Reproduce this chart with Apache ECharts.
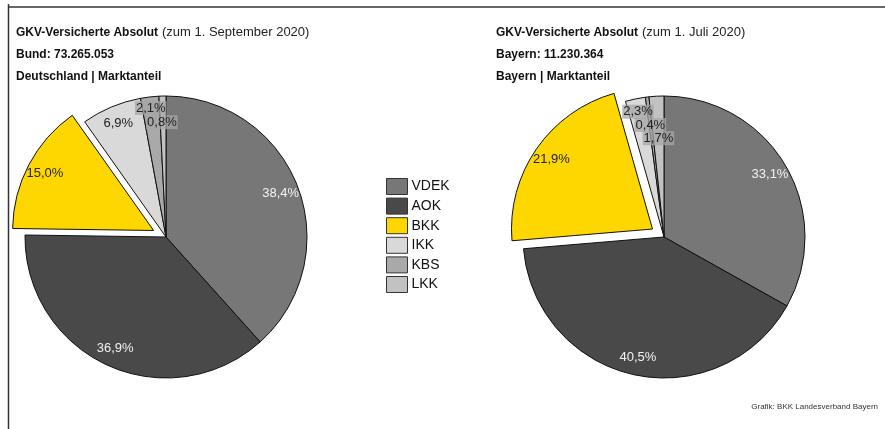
<!DOCTYPE html>
<html>
<head>
<meta charset="utf-8">
<script src="https://cdn.jsdelivr.net/npm/echarts@6/dist/echarts.min.js"></script>
<style>
  html, body { margin: 0; padding: 0; background: #fff; }
  #chart { width: 885px; height: 429px; }
</style>
</head>
<body>
<div id="chart"></div>
<script>
const kassen = ['VDEK', 'AOK', 'BKK', 'IKK', 'KBS', 'LKK'];
const farben = ['#777777', '#494949', '#ffd700', '#d9d9d9', '#a9a9a9', '#c2c2c2'];
const bundWerte = [38.4, 36.9, 15.0, 6.9, 2.1, 0.8];
const bayernWerte = [33.1, 40.5, 21.9, 2.3, 0.4, 1.7];

// label nudges for the thin slices (so they don't sit on top of each other)
const bundLabelShift = [null, null, null, null, [-1, -7], [-1, 8]];
const bayernLabelShift = [null, null, null, [-1, -5], [1, 10], [1, 24]];

const FONT = 'Liberation Sans, Arial, sans-serif';
const R = 141;

function fmt(v) {
  return v.toFixed(1).replace('.', ',') + '%';
}

function pieData(values) {
  return values.map((v, i) => ({
    value: v,
    name: kassen[i],
    selected: kassen[i] === 'BKK',
    itemStyle: { color: farben[i] },
  }));
}

function labelData(values, shift) {
  return values.map((v, i) => {
    const item = {
      value: v,
      name: kassen[i],
      selected: kassen[i] === 'BKK',
    };
    if (shift[i]) {
      item.label = {
        offset: shift[i],
        backgroundColor: 'rgba(165,165,165,0.75)',
        padding: [1, 1, 0, 1],
      };
    }
    if (i < 2) {
      item.label = { color: '#f2f2f2' };
    }
    return item;
  });
}

function pieSeries(name, center, values) {
  return {
    name,
    type: 'pie',
    center,
    radius: [0, R],
    startAngle: 90,
    selectedMode: true,
    selectedOffset: 14,
    animation: false,
    silent: true,
    label: { show: false },
    labelLine: { show: false },
    itemStyle: { borderColor: '#111', borderWidth: 1 },
    emphasis: { disabled: true },
    data: pieData(values),
  };
}

// transparent ring on top, only to place the % labels at ~0.85 R
function labelSeries(name, center, values, shift) {
  return {
    name: name + ' Labels',
    type: 'pie',
    center,
    radius: [R * 0.7, R],
    startAngle: 90,
    selectedMode: true,
    selectedOffset: 14,
    animation: false,
    silent: true,
    z: 5,
    itemStyle: { color: 'rgba(0,0,0,0)', borderWidth: 0 },
    emphasis: { disabled: true },
    labelLine: { show: false },
    labelLayout: { hideOverlap: false },
    label: {
      show: true,
      position: 'inside',
      fontFamily: FONT,
      fontSize: 13,
      color: '#222',
      formatter: (p) => fmt(p.value),
    },
    data: labelData(values, shift),
  };
}

function headerTexts(x, line1a, line1b, line2, line3) {
  const base = { fontFamily: FONT, fontSize: 12, fill: '#111' };
  return [
    { type: 'text', left: x, top: 27, style: Object.assign({}, base, { text: line1a, fontWeight: 'bold' }) },
    { type: 'text', left: x + 146, top: 26, style: Object.assign({}, base, { text: line1b, fontSize: 13, fill: '#222' }) },
    { type: 'text', left: x, top: 49, style: Object.assign({}, base, { text: line2, fontWeight: 'bold' }) },
    { type: 'text', left: x, top: 71, style: Object.assign({}, base, { text: line3, fontWeight: 'bold' }) },
  ];
}

const chart = echarts.init(document.getElementById('chart'));

chart.setOption({
  backgroundColor: '#fff',
  color: farben,
  legend: {
    orient: 'vertical',
    left: 381,
    top: 173,
    itemWidth: 21,
    itemHeight: 16,
    itemGap: 2.6,
    icon: 'rect',
    selectedMode: false,
    data: kassen,
    itemStyle: { borderColor: '#333', borderWidth: 1 },
    textStyle: { fontFamily: FONT, fontSize: 14, color: '#111', padding: [0, 0, 0, -1] },
  },
  graphic: [
    { type: 'line', shape: { x1: 8.5, y1: 4, x2: 8.5, y2: 429 }, style: { stroke: '#333', lineWidth: 1.5 } },
    { type: 'line', shape: { x1: 8, y1: 7, x2: 885, y2: 7 }, style: { stroke: '#333', lineWidth: 1.5 } },
    ...headerTexts(16, 'GKV-Versicherte Absolut', '(zum 1. September 2020)', 'Bund: 73.265.053', 'Deutschland | Marktanteil'),
    ...headerTexts(496, 'GKV-Versicherte Absolut', '(zum 1. Juli 2020)', 'Bayern: 11.230.364', 'Bayern | Marktanteil'),
    {
      type: 'text',
      right: 7,
      top: 403,
      style: { text: 'Grafik: BKK Landesverband Bayern', fontFamily: FONT, fontSize: 8, fill: '#333' },
    },
  ],
  series: [
    pieSeries('Deutschland', [166, 237], bundWerte),
    pieSeries('Bayern', [664, 237], bayernWerte),
    labelSeries('Deutschland', [166, 237], bundWerte, bundLabelShift),
    labelSeries('Bayern', [664, 237], bayernWerte, bayernLabelShift),
  ],
});
</script>
</body>
</html>
